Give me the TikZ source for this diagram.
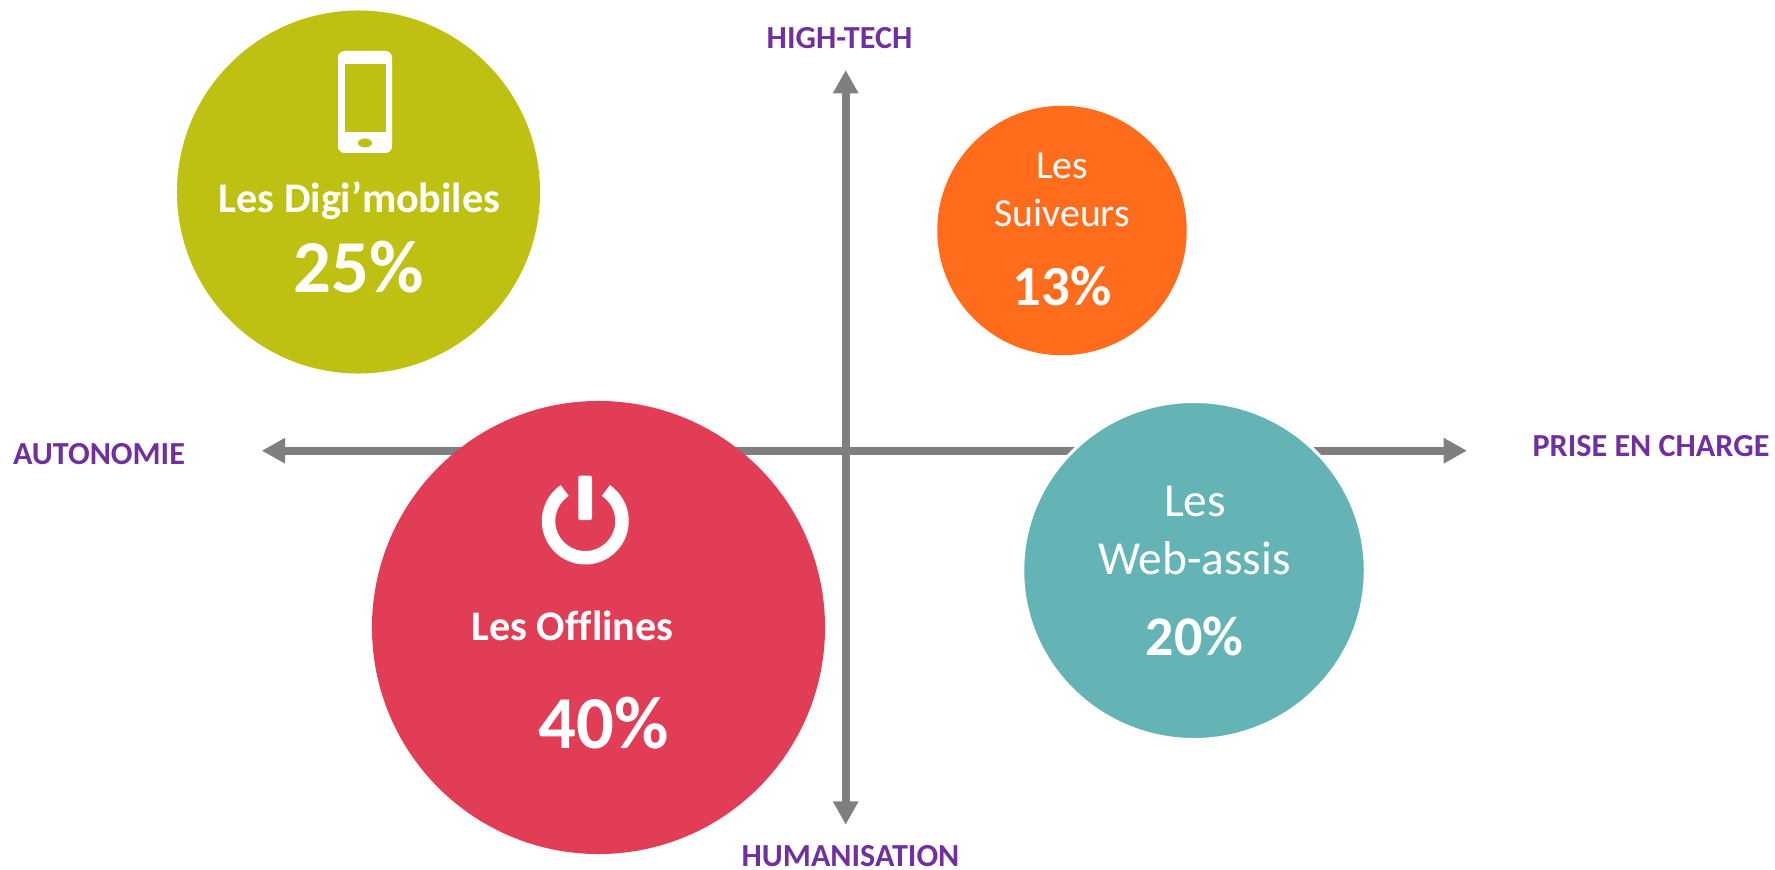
\documentclass[tikz,border=0pt]{standalone}
\usepackage{fontspec}
\setmainfont[Ligatures={TeX,NoCommon}]{Carlito}
\usetikzlibrary{arrows.meta,shapes.geometric}

\definecolor{digicol}{RGB}{191,193,18}
\definecolor{offcol}{RGB}{225,61,87}
\definecolor{webcol}{RGB}{101,180,181}
\definecolor{suivcol}{RGB}{255,108,28}
\definecolor{axecol}{RGB}{127,127,127}
\definecolor{axetxt}{RGB}{112,48,160}

\tikzset{
  bubble/.style={circle,inner sep=0pt,outer sep=0pt},
  axearrow/.style={draw=axecol,line width=6pt,{Triangle[length=17.5pt,width=18pt,fill=axecol]}-{Triangle[length=17.5pt,width=18pt,fill=axecol]}},
  axelabel/.style={anchor=base,inner sep=0pt,text=axetxt,font=\fontsize{24.1}{26}\selectfont\bfseries},
  nametxt/.style={anchor=base,inner sep=0pt,text=white,font=\fontsize{31.6}{36}\selectfont\bfseries},
  thintxt/.style={anchor=base,inner sep=0pt,text=white},
  pcttxt/.style={anchor=base,inner sep=0pt,text=white,font=\bfseries},
}

\begin{document}
\begin{tikzpicture}[x=0.75pt,y=0.75pt,yscale=-1,xscale=1]
\useasboundingbox (0,0) rectangle (1775,870);

% axes
\coordinate (west) at (261.7,450.7);
\coordinate (east) at (1467,450.7);
\coordinate (north) at (845.7,70);
\coordinate (south) at (845.7,824.7);
\draw [axearrow] (west) -- (east);
\draw [axearrow] (north) -- (south);

% axis labels
\node (hightech) [axelabel] at (839.5,49) {HIGH-TECH};
\node (humanisation) [axelabel] at (850.5,866.5) {HUMANISATION};
\node (autonomie) [axelabel] at (99,464.3) {AUTONOMIE};
\node (prise) [axelabel] at (1651,456) {PRISE EN CHARGE};

% bubbles
\node (digi) [bubble,fill=digicol,minimum size=272.3pt] at (358.5,192) {};
\node (offline) [bubble,fill=offcol,minimum size=339.8pt] at (598.5,627.5) {};
\node (suiveur) [bubble,fill=suivcol,minimum size=187.1pt] at (1062,230.5) {};
\node (web) [ellipse,inner sep=0pt,outer sep=0pt,fill=webcol,draw=white,line width=2.25pt,minimum width=256.9pt,minimum height=253.5pt] at (1194,570.5) {};

% phone icon
\fill [white,rounded corners=5pt] (338,51) rectangle (392,153);
\fill [digicol] (345,64) rectangle (386,132);
\fill [digicol] (365,143) ellipse (7 and 4.5);

% power icon
\draw [white,line width=10.1pt] (585.3,521) ++(-124:36.75) arc (-124:-416:36.75);
\fill [white,rounded corners=1.5pt] (578.3,475.7) rectangle (592,520);

% texts
\node (diginame) [nametxt] at (359.5,213) {Les Digi’mobiles};
\node (digipct) [pcttxt,font=\fontsize{56}{60}\selectfont\bfseries] at (359,292.5) {25\%};
\node (offname) [nametxt] at (572.5,640.7) {Les Offlines};
\node (offpct) [pcttxt,font=\fontsize{56}{60}\selectfont\bfseries] at (603.5,748) {40\%};
\node (suivles) [thintxt,font=\fontsize{29.8}{32}\selectfont] at (1062,178.5) {Les};
\node (suivname) [thintxt,font=\fontsize{29.8}{32}\selectfont] at (1062,226.7) {Suiveurs};
\node (suivpct) [pcttxt,font=\fontsize{42.5}{46}\selectfont\bfseries] at (1062,305) {13\%};
\node (webles) [thintxt,font=\fontsize{35.5}{38}\selectfont] at (1195,516.7) {Les};
\node (webname) [thintxt,font=\fontsize{35.5}{38}\selectfont] at (1194.5,574) {Web-assis};
\node (webpct) [pcttxt,font=\fontsize{42}{46}\selectfont\bfseries] at (1194.5,655) {20\%};

\end{tikzpicture}
\end{document}
